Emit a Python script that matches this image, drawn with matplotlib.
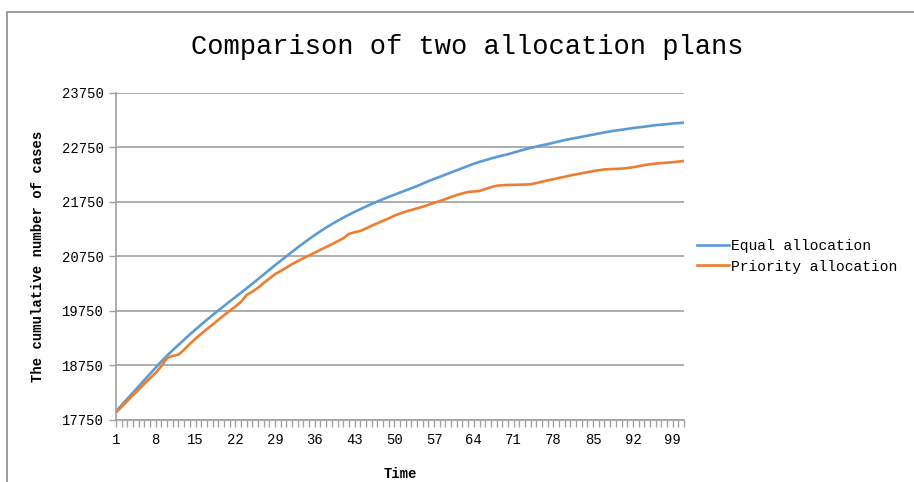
import matplotlib
matplotlib.use("Agg")
import matplotlib.pyplot as plt
from matplotlib.patches import Rectangle

time = list(range(1, 102))

equal_allocation = [
    17900, 18015, 18130, 18245, 18360, 18475, 18590, 18705, 18818, 18925,
    19025, 19122, 19218, 19312, 19404, 19494, 19582, 19668, 19752, 19835,
    19917, 19998, 20080, 20162, 20245, 20330, 20415, 20500, 20585, 20668,
    20750, 20832, 20912, 20990, 21066, 21140, 21210, 21277, 21340, 21400,
    21458, 21513, 21565, 21615, 21663, 21710, 21755, 21798, 21840, 21880,
    21920, 21960, 22000, 22040, 22085, 22130, 22170, 22210, 22250, 22290,
    22330, 22370, 22410, 22450, 22485, 22515, 22545, 22575, 22600, 22625,
    22655, 22685, 22715, 22740, 22765, 22790, 22810, 22835, 22860, 22885,
    22905, 22925, 22945, 22965, 22985, 23005, 23025, 23045, 23060, 23075,
    23090, 23105, 23118, 23130, 23145, 23158, 23168, 23178, 23188, 23197,
    23205,
]

priority_allocation = [
    17880, 17985, 18090, 18200, 18300, 18405, 18510, 18610, 18730, 18880,
    18920, 18940, 19035, 19140, 19235, 19325, 19410, 19495, 19580, 19665,
    19745, 19825, 19910, 20040, 20100, 20170, 20260, 20340, 20420, 20480,
    20540, 20605, 20660, 20715, 20765, 20815, 20870, 20920, 20970, 21025,
    21080, 21160, 21190, 21215, 21260, 21310, 21355, 21400, 21445, 21495,
    21535, 21570, 21600, 21630, 21660, 21695, 21730, 21765, 21800, 21840,
    21875, 21905, 21930, 21940, 21950, 21985, 22020, 22045, 22055, 22060,
    22062, 22065, 22068, 22072, 22095, 22120, 22145, 22165, 22190, 22210,
    22235, 22255, 22275, 22295, 22315, 22330, 22345, 22352, 22355, 22360,
    22372, 22385, 22405, 22425, 22440, 22452, 22462, 22470, 22477, 22490,
    22501,
]

y_ticks = [17750, 18750, 19750, 20750, 21750, 22750, 23750]
x_label_ticks = list(range(1, 100, 7))

MONO = ["Liberation Mono", "DejaVu Sans Mono"]
GRID = "#a0a0a0"

fig = plt.figure(figsize=(9.14, 4.82), dpi=100)
fig.patch.set_facecolor("white")

# outer chart border (Excel style)
fig.add_artist(Rectangle((7 / 914, -0.05), 1.0, (482 - 12) / 482 + 0.05,
                         transform=fig.transFigure, fill=False,
                         edgecolor="#8c8c8c", linewidth=1.2))

ax = fig.add_axes([116 / 914, 1 - 419.5 / 482, (684 - 116) / 914, (419.5 - 93) / 482])

ax.plot(time, equal_allocation, color="#5B9BD5", linewidth=1.9, label="Equal allocation")
ax.plot(time, priority_allocation, color="#ED7D31", linewidth=1.9, label="Priority allocation")

ax.set_xlim(1, 101)
ax.set_ylim(17750, 23750)
ax.set_yticks(y_ticks)
ax.set_yticklabels([str(v) for v in y_ticks], fontfamily=MONO, fontsize=10)
ax.set_xticks(time)
ax.set_xticklabels([str(t) if t in x_label_ticks else "" for t in time],
                   fontfamily=MONO, fontsize=10)

ax.grid(axis="y", color=GRID, linewidth=1.2)
ax.set_axisbelow(True)
for s in ["top", "right"]:
    ax.spines[s].set_visible(False)
for s in ["left", "bottom"]:
    ax.spines[s].set_color(GRID)
    ax.spines[s].set_linewidth(1.2)
ax.tick_params(axis="both", color=GRID, length=5, width=1.0, direction="out", pad=4)
ax.tick_params(axis="x", pad=5)

ax.set_xlabel("Time", fontfamily=MONO, fontweight="bold", fontsize=10, labelpad=14)
ax.set_ylabel("The cumulative number of cases", fontfamily=MONO, fontweight="bold",
              fontsize=10, labelpad=12)

fig.text(467 / 914, 1 - 47 / 482, "Comparison of two allocation plans",
         fontfamily=MONO, fontsize=19.5, ha="center", va="center")

ax.legend(loc="center left", bbox_to_anchor=(1.005, 0.5), frameon=False,
          prop={"family": MONO, "size": 10.5}, handlelength=2.2, handletextpad=0.1,
          labelspacing=0.45, borderaxespad=0.3)

fig.savefig("out.png", dpi=100, facecolor="white")
